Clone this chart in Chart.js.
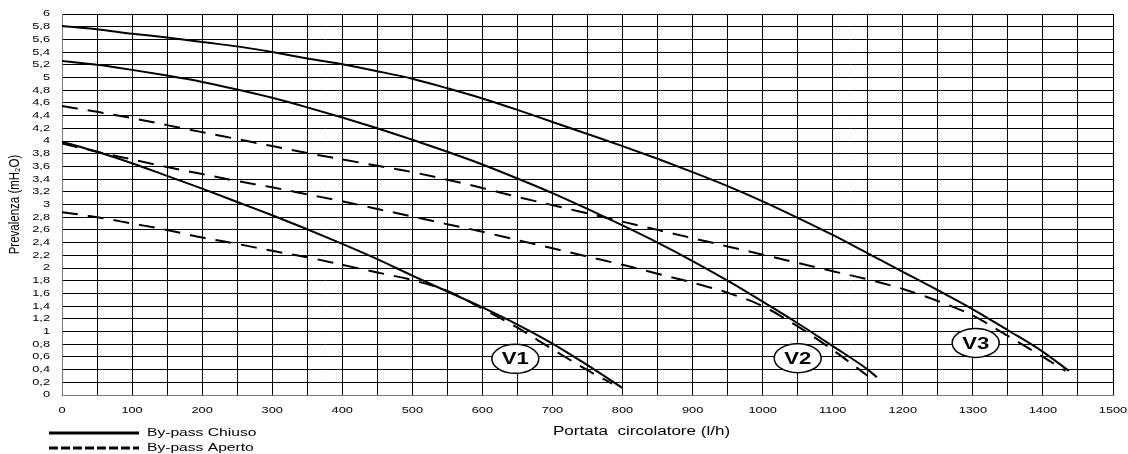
<!DOCTYPE html>
<html>
<head>
<meta charset="utf-8">
<script src="https://cdn.jsdelivr.net/npm/chart.js@4.4.1/dist/chart.umd.min.js"></script>
<style>
  html, body { margin: 0; padding: 0; background: #fff; }
  #wrap { width: 1128px; height: 454px; position: relative; }
</style>
</head>
<body>
<div id="wrap"><canvas id="chart"></canvas></div>
<script>
// Curve caratteristiche circolatore - velocità V1, V2, V3
// linea continua = by-pass chiuso, tratteggiata = by-pass aperto

const Q_V1_CHIUSO = [0, 50, 100, 150, 200, 250, 300, 350, 400, 450, 500, 550, 600, 650, 700, 750, 800];
const H_V1_CHIUSO = [3.99, 3.83, 3.65, 3.45, 3.25, 3.04, 2.83, 2.61, 2.38, 2.14, 1.88, 1.63, 1.38, 1.11, 0.81, 0.47, 0.11];

const Q_V1_APERTO = [0, 50, 100, 150, 200, 250, 300, 350, 400, 450, 500, 550, 600, 650, 700, 750, 785];
const H_V1_APERTO = [2.88, 2.80, 2.70, 2.60, 2.48, 2.38, 2.27, 2.17, 2.05, 1.93, 1.81, 1.64, 1.36, 1.06, 0.72, 0.39, 0.18];

const Q_V2_CHIUSO = [0, 50, 100, 150, 200, 250, 300, 350, 400, 450, 500, 550, 600, 650, 700, 750, 800, 850, 900, 950, 1000, 1050, 1100, 1150, 1163];
const H_V2_CHIUSO = [5.26, 5.20, 5.12, 5.03, 4.93, 4.81, 4.68, 4.53, 4.37, 4.20, 4.02, 3.83, 3.63, 3.41, 3.18, 2.93, 2.67, 2.40, 2.11, 1.80, 1.47, 1.13, 0.77, 0.40, 0.28];

const Q_V2_APERTO = [0, 50, 100, 150, 200, 250, 300, 350, 400, 450, 500, 550, 600, 650, 700, 750, 800, 850, 900, 950, 1000, 1050, 1100, 1150];
const H_V2_APERTO = [3.96, 3.83, 3.71, 3.59, 3.48, 3.37, 3.27, 3.16, 3.05, 2.93, 2.81, 2.69, 2.57, 2.44, 2.31, 2.18, 2.05, 1.91, 1.77, 1.61, 1.40, 1.08, 0.71, 0.30];

const Q_V3_CHIUSO = [0, 50, 100, 150, 200, 250, 300, 350, 400, 450, 500, 550, 600, 650, 700, 750, 800, 850, 900, 950, 1000, 1050, 1100, 1150, 1200, 1250, 1300, 1350, 1400, 1437];
const H_V3_CHIUSO = [5.81, 5.76, 5.69, 5.63, 5.56, 5.49, 5.40, 5.30, 5.21, 5.10, 4.98, 4.83, 4.67, 4.49, 4.30, 4.11, 3.92, 3.72, 3.51, 3.29, 3.05, 2.79, 2.52, 2.23, 1.94, 1.65, 1.35, 1.02, 0.68, 0.38];

const Q_V3_APERTO = [0, 50, 100, 150, 200, 250, 300, 350, 400, 450, 500, 550, 600, 650, 700, 750, 800, 850, 900, 950, 1000, 1050, 1100, 1150, 1200, 1250, 1300, 1350, 1400, 1432];
const H_V3_APERTO = [4.55, 4.46, 4.36, 4.25, 4.14, 4.03, 3.92, 3.81, 3.71, 3.61, 3.51, 3.39, 3.26, 3.12, 2.99, 2.86, 2.73, 2.60, 2.47, 2.34, 2.21, 2.08, 1.95, 1.82, 1.67, 1.48, 1.25, 0.93, 0.60, 0.38];

// etichette velocità (posizione in l/h e mH2O)
const VEL_LABELS = ['V1', 'V2', 'V3'];
const VEL_Q      = [647, 1050, 1304];
const VEL_H      = [0.57, 0.58, 0.82];

const LEGENDA = ['By-pass Chiuso', 'By-pass Aperto'];
const TITOLO_X = 'Portata  circolatore (l/h)';
const TITOLO_Y = 'Prevalenza (mH\u2082O)';

const FONT = "'Liberation Sans', Arial, sans-serif";
const STRETCH = 1.42;   // il grafico originale è allargato in orizzontale
const DASH = [16, 10];

const zip = (qs, hs) => qs.map((q, i) => ({ x: q, y: hs[i] }));
const fmtH = v => String(Math.round(v * 10) / 10).replace('.', ',');

function testo(ctx, txt, x, y, align, font, sx = STRETCH) {
  ctx.save();
  ctx.font = font;
  ctx.textAlign = align;
  ctx.textBaseline = 'middle';
  ctx.translate(x, y);
  ctx.scale(sx, 1);
  ctx.fillText(txt, 0, 0);
  ctx.restore();
}

const curva = (label, data, dashed) => ({
  label,
  data,
  borderColor: '#000',
  borderWidth: 2,
  borderDash: dashed ? DASH : [],
  pointRadius: 0,
  fill: false,
  cubicInterpolationMode: 'monotone',
});

const decorPlugin = {
  id: 'decor',
  afterDatasetsDraw(chart) {
    const { ctx, scales: { x, y } } = chart;
    VEL_LABELS.forEach((lbl, i) => {
      const px = x.getPixelForValue(VEL_Q[i]);
      const py = y.getPixelForValue(VEL_H[i]);
      ctx.save();
      ctx.beginPath();
      ctx.ellipse(px, py, 23.5, 14.5, 0, 0, Math.PI * 2);
      ctx.fillStyle = '#fff';
      ctx.fill();
      ctx.lineWidth = 1.5;
      ctx.strokeStyle = '#000';
      ctx.stroke();
      ctx.fillStyle = '#000';
      testo(ctx, lbl, px, py + 1, 'center', `bold 17px ${FONT}`, 1.3);
      ctx.restore();
    });
  },
  afterDraw(chart) {
    const { ctx, chartArea: a, scales: { x, y } } = chart;
    ctx.save();
    ctx.fillStyle = '#000';

    // etichette assi
    x.ticks.forEach(t => {
      if (t.value % 100 !== 0) return;
      testo(ctx, String(t.value), x.getPixelForValue(t.value), a.bottom + 16, 'center', `9px ${FONT}`);
    });
    y.ticks.forEach(t => {
      testo(ctx, fmtH(t.value), a.left - 12, y.getPixelForValue(t.value), 'right', `9px ${FONT}`);
    });

    // titoli assi
    testo(ctx, TITOLO_X, a.left + 491, a.bottom + 37, 'left', `12px ${FONT}`);
    ctx.save();
    ctx.translate(15, (a.top + a.bottom) / 2);
    ctx.scale(1.2, 1);
    ctx.rotate(-Math.PI / 2);
    ctx.font = `11.5px ${FONT}`;
    ctx.textAlign = 'center';
    ctx.textBaseline = 'middle';
    ctx.fillText(TITOLO_Y, 0, 0);
    ctx.restore();

    // legenda
    LEGENDA.forEach((lbl, i) => {
      const ly = a.bottom + 38 + i * 15;
      ctx.beginPath();
      ctx.setLineDash(i === 0 ? [] : [9, 3]);
      ctx.lineWidth = 3;
      ctx.strokeStyle = '#000';
      ctx.moveTo(49, ly);
      ctx.lineTo(139, ly);
      ctx.stroke();
      ctx.setLineDash([]);
      testo(ctx, lbl, 147, ly, 'left', `11px ${FONT}`);
    });
    ctx.restore();
  },
};

new Chart(document.getElementById('chart'), {
  type: 'line',
  data: {
    datasets: [
      curva('V1 ' + LEGENDA[0], zip(Q_V1_CHIUSO, H_V1_CHIUSO), false),
      curva('V1 ' + LEGENDA[1], zip(Q_V1_APERTO, H_V1_APERTO), true),
      curva('V2 ' + LEGENDA[0], zip(Q_V2_CHIUSO, H_V2_CHIUSO), false),
      curva('V2 ' + LEGENDA[1], zip(Q_V2_APERTO, H_V2_APERTO), true),
      curva('V3 ' + LEGENDA[0], zip(Q_V3_CHIUSO, H_V3_CHIUSO), false),
      curva('V3 ' + LEGENDA[1], zip(Q_V3_APERTO, H_V3_APERTO), true),
    ],
  },
  options: {
    responsive: true,
    maintainAspectRatio: false,
    animation: false,
    layout: { padding: { left: 62, right: 15, top: 14, bottom: 59 } },
    plugins: { legend: { display: false }, tooltip: { enabled: false } },
    scales: {
      x: {
        type: 'linear', min: 0, max: 1500,
        ticks: { stepSize: 50, display: false },
        grid: { color: '#000', lineWidth: 1, drawTicks: false },
        border: { color: '#777', width: 1 },
      },
      y: {
        type: 'linear', min: 0, max: 6,
        ticks: { stepSize: 0.2, display: false },
        grid: { color: '#000', lineWidth: 1, drawTicks: false },
        border: { color: '#777', width: 1 },
      },
    },
  },
  plugins: [decorPlugin],
});
</script>
</body>
</html>
